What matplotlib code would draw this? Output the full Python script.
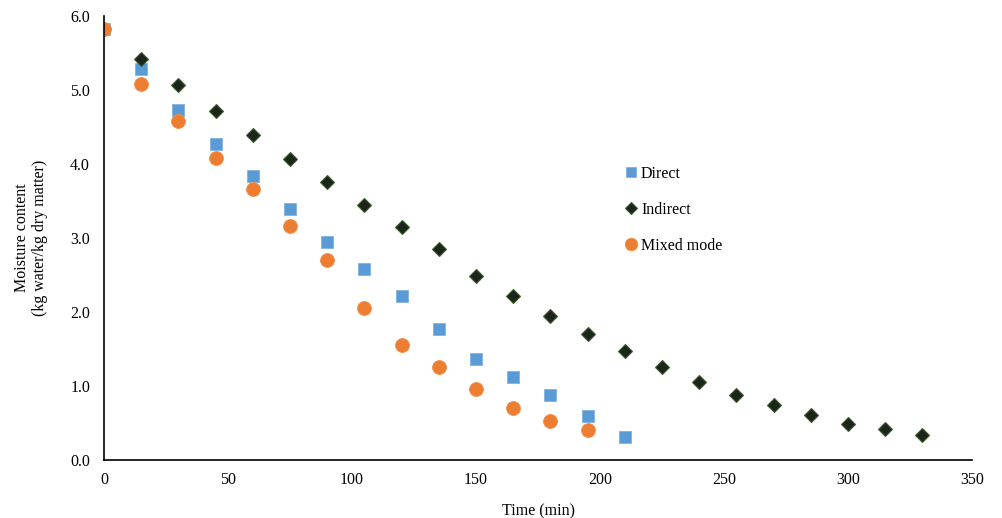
import numpy as np
import matplotlib.pyplot as plt

plt.rcParams['font.family'] = ['Liberation Serif', 'DejaVu Serif']

# Drying data (time in min, moisture content kg water/kg dry matter)
time_direct = [0, 15, 30, 45, 60, 75, 90, 105, 120, 135, 150, 165, 180, 195, 210]
mc_direct = [5.82, 5.28, 4.73, 4.27, 3.84, 3.39, 2.95, 2.58, 2.22, 1.77, 1.36, 1.12, 0.88, 0.59, 0.31]

time_indirect = [0, 15, 30, 45, 60, 75, 90, 105, 120, 135, 150, 165, 180, 195, 210,
                 225, 240, 255, 270, 285, 300, 315, 330]
mc_indirect = [5.82, 5.42, 5.07, 4.72, 4.39, 4.07, 3.76, 3.45, 3.15, 2.85, 2.49, 2.22, 1.95,
               1.70, 1.47, 1.26, 1.05, 0.88, 0.74, 0.61, 0.49, 0.42, 0.34]

time_mixed = [0, 15, 30, 45, 60, 75, 90, 105, 120, 135, 150, 165, 180, 195]
mc_mixed = [5.82, 5.08, 4.58, 4.08, 3.66, 3.16, 2.70, 2.05, 1.55, 1.26, 0.96, 0.70, 0.53, 0.41]

fig = plt.figure(figsize=(10.03, 5.18), dpi=100)
ax = fig.add_axes([0.1037, 0.112, 0.8654, 0.857])

ax.plot(time_direct, mc_direct, ls='none', marker='s', ms=8.5, mfc='#5b9bd5', mec='#7fb2e0', mew=0.6, label='Direct')
ax.plot(time_indirect, mc_indirect, ls='none', marker='D', ms=7, mfc='#1c241c', mec='#3d5e2e', mew=0.8, label='Indirect')
ax.plot(time_mixed, mc_mixed, ls='none', marker='o', ms=10, mfc='#ed7d31', mec='#f09050', mew=0.6, label='Mixed mode')

ax.set_xlim(0, 350)
ax.set_ylim(0, 6)
ax.set_xticks(np.arange(0, 351, 50))
ax.set_yticks(np.arange(0, 6.1, 1.0))
ax.set_yticklabels([f'{v:.1f}' for v in np.arange(0, 6.1, 1.0)])
ax.tick_params(length=0, labelsize=11.5)
ax.tick_params(axis='y', pad=10)
ax.tick_params(axis='x', pad=8.5)

for s in ['top', 'right']:
    ax.spines[s].set_visible(False)
for s in ['left', 'bottom']:
    ax.spines[s].set_color('black')
    ax.spines[s].set_linewidth(1.2)

ax.set_xlabel('Time (min)', fontsize=11.5, labelpad=11)
ax.set_ylabel('Moisture content\n(kg water/kg dry matter)', fontsize=11.5, labelpad=16)

leg = ax.legend(loc='center left', bbox_to_anchor=(0.58, 0.563), frameon=False,
                fontsize=11.5, handletextpad=0.0, labelspacing=1.25, markerscale=0.9,
                handlelength=1.2)

fig.savefig('out.png', dpi=100)
